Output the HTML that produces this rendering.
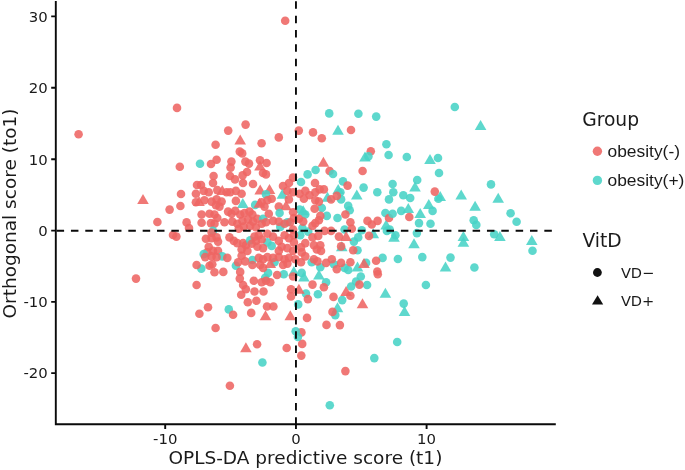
<!DOCTYPE html>
<html><head><meta charset="utf-8"><title>OPLS-DA score plot</title>
<style>
html,body{margin:0;padding:0;background:#fff;}
svg{display:block}
text{font-family:"DejaVu Sans","Liberation Sans",sans-serif;fill:#1a1a1a}
.tk{font-size:14.9px;fill:#111}
.ax{font-size:18.5px}
.lt{font-size:18.7px}
.ll{font-size:17.4px;font-family:"Liberation Sans",sans-serif}
.lv{font-size:14.6px}
.r{fill:#ee6563;fill-opacity:0.88}
.c{fill:#48d3c6;fill-opacity:0.88}
</style></head><body>
<svg width="685" height="470" viewBox="0 0 685 470">
<rect width="685" height="470" fill="#fff"/>
<g id="pts">
<circle class="r" cx="177.0" cy="107.9" r="4.3"/>
<circle class="r" cx="78.6" cy="134.2" r="4.3"/>
<circle class="r" cx="179.8" cy="166.8" r="4.3"/>
<circle class="r" cx="285.2" cy="20.8" r="4.3"/>
<circle class="c" cx="329.2" cy="113.4" r="4.3"/>
<circle class="r" cx="245.6" cy="124.6" r="4.3"/>
<circle class="r" cx="228.2" cy="130.6" r="4.3"/>
<circle class="r" cx="298.8" cy="130.6" r="4.3"/>
<circle class="r" cx="313.0" cy="132.4" r="4.3"/>
<circle class="r" cx="321.8" cy="138.2" r="4.3"/>
<circle class="r" cx="278.8" cy="137.4" r="4.3"/>
<path class="r" d="M240.2 134.4l5.8 10.00h-11.6z"/>
<circle class="r" cx="261.6" cy="143.2" r="4.3"/>
<circle class="r" cx="215.6" cy="144.8" r="4.3"/>
<circle class="r" cx="239.8" cy="151.6" r="4.3"/>
<circle class="r" cx="242.2" cy="153.4" r="4.3"/>
<circle class="c" cx="200.0" cy="163.8" r="4.3"/>
<circle class="r" cx="216.6" cy="159.8" r="4.3"/>
<circle class="r" cx="211.0" cy="164.0" r="4.3"/>
<circle class="r" cx="231.4" cy="161.6" r="4.3"/>
<circle class="r" cx="230.6" cy="167.6" r="4.3"/>
<circle class="r" cx="245.4" cy="161.6" r="4.3"/>
<circle class="r" cx="249.0" cy="163.6" r="4.3"/>
<circle class="r" cx="260.0" cy="160.2" r="4.3"/>
<circle class="r" cx="266.6" cy="163.0" r="4.3"/>
<path class="r" d="M260.0 160.4l5.8 10.00h-11.6z"/>
<path class="r" d="M323.4 156.8l5.8 10.00h-11.6z"/>
<circle class="c" cx="315.6" cy="170.0" r="4.3"/>
<circle class="c" cx="307.6" cy="174.4" r="4.3"/>
<circle class="r" cx="247.0" cy="172.0" r="4.3"/>
<circle class="r" cx="242.6" cy="175.4" r="4.3"/>
<circle class="r" cx="263.0" cy="173.0" r="4.3"/>
<circle class="r" cx="266.0" cy="174.4" r="4.3"/>
<circle class="r" cx="213.6" cy="176.0" r="4.3"/>
<circle class="r" cx="230.0" cy="176.0" r="4.3"/>
<circle class="r" cx="235.0" cy="179.4" r="4.3"/>
<circle class="r" cx="213.0" cy="183.0" r="4.3"/>
<circle class="r" cx="201.0" cy="185.0" r="4.3"/>
<circle class="r" cx="197.0" cy="185.0" r="4.3"/>
<circle class="r" cx="293.0" cy="177.6" r="4.3"/>
<circle class="c" cx="301.0" cy="182.0" r="4.3"/>
<circle class="r" cx="289.0" cy="183.0" r="4.3"/>
<circle class="r" cx="315.0" cy="183.0" r="4.3"/>
<circle class="r" cx="329.6" cy="171.0" r="4.3"/>
<circle class="r" cx="243.0" cy="183.0" r="4.3"/>
<circle class="r" cx="253.0" cy="184.0" r="4.3"/>
<circle class="r" cx="283.0" cy="186.0" r="4.3"/>
<circle class="c" cx="358.4" cy="113.8" r="4.3"/>
<circle class="c" cx="376.2" cy="116.6" r="4.3"/>
<circle class="c" cx="454.8" cy="107.0" r="4.3"/>
<path class="c" d="M338.0 124.8l5.8 10.00h-11.6z"/>
<circle class="r" cx="351.0" cy="130.0" r="4.3"/>
<circle class="c" cx="386.4" cy="144.2" r="4.3"/>
<circle class="r" cx="370.8" cy="151.2" r="4.3"/>
<path class="c" d="M365.0 151.4l5.8 10.00h-11.6z"/>
<circle class="c" cx="368.4" cy="156.4" r="4.3"/>
<circle class="c" cx="388.6" cy="155.0" r="4.3"/>
<circle class="c" cx="406.8" cy="157.0" r="4.3"/>
<path class="c" d="M430.0 154.0l5.8 10.00h-11.6z"/>
<circle class="c" cx="438.0" cy="158.0" r="4.3"/>
<circle class="c" cx="439.0" cy="173.0" r="4.3"/>
<circle class="r" cx="362.6" cy="171.0" r="4.3"/>
<circle class="c" cx="333.0" cy="174.0" r="4.3"/>
<circle class="c" cx="343.0" cy="181.4" r="4.3"/>
<circle class="r" cx="347.6" cy="185.6" r="4.3"/>
<circle class="c" cx="417.2" cy="180.0" r="4.3"/>
<circle class="c" cx="392.6" cy="184.0" r="4.3"/>
<circle class="c" cx="363.6" cy="187.6" r="4.3"/>
<path class="c" d="M415.0 181.4l5.8 10.00h-11.6z"/>
<path class="c" d="M480.6 120.0l5.8 10.00h-11.6z"/>
<circle class="c" cx="491.0" cy="184.4" r="4.3"/>
<path class="r" d="M143.0 194.0l5.8 10.00h-11.6z"/>
<circle class="r" cx="181.0" cy="194.0" r="4.3"/>
<circle class="r" cx="180.4" cy="206.0" r="4.3"/>
<circle class="r" cx="169.6" cy="209.6" r="4.3"/>
<circle class="r" cx="157.4" cy="222.0" r="4.3"/>
<circle class="r" cx="186.6" cy="222.4" r="4.3"/>
<circle class="r" cx="189.0" cy="228.0" r="4.3"/>
<circle class="r" cx="173.0" cy="235.0" r="4.3"/>
<circle class="r" cx="176.4" cy="236.6" r="4.3"/>
<circle class="r" cx="136.0" cy="278.6" r="4.3"/>
<circle class="r" cx="195.9" cy="193.7" r="4.3"/>
<circle class="r" cx="203.7" cy="190.9" r="4.3"/>
<circle class="r" cx="208.7" cy="192.3" r="4.3"/>
<circle class="r" cx="217.3" cy="190.1" r="4.3"/>
<path class="r" d="M222.3 185.0l5.8 10.00h-11.6z"/>
<circle class="r" cx="226.6" cy="192.3" r="4.3"/>
<path class="r" d="M260.2 184.5l5.8 10.00h-11.6z"/>
<path class="r" d="M269.5 184.1l5.8 10.00h-11.6z"/>
<circle class="c" cx="266.0" cy="194.4" r="4.3"/>
<path class="c" d="M282.4 188.8l5.8 10.00h-11.6z"/>
<circle class="r" cx="287.4" cy="190.9" r="4.3"/>
<circle class="r" cx="288.9" cy="199.4" r="4.3"/>
<circle class="r" cx="230.2" cy="192.3" r="4.3"/>
<circle class="r" cx="235.9" cy="190.9" r="4.3"/>
<circle class="r" cx="241.6" cy="193.7" r="4.3"/>
<circle class="r" cx="235.9" cy="200.9" r="4.3"/>
<path class="c" d="M242.8 197.9l5.8 10.00h-11.6z"/>
<circle class="r" cx="195.9" cy="202.3" r="4.3"/>
<path class="r" d="M199.0 196.0l5.8 10.00h-11.6z"/>
<circle class="r" cx="204.4" cy="200.2" r="4.3"/>
<circle class="r" cx="211.6" cy="201.6" r="4.3"/>
<circle class="r" cx="216.6" cy="199.4" r="4.3"/>
<circle class="r" cx="221.6" cy="201.6" r="4.3"/>
<circle class="r" cx="215.9" cy="205.2" r="4.3"/>
<circle class="r" cx="219.5" cy="206.6" r="4.3"/>
<circle class="c" cx="255.2" cy="204.9" r="4.3"/>
<circle class="r" cx="261.7" cy="202.3" r="4.3"/>
<circle class="r" cx="267.4" cy="200.2" r="4.3"/>
<circle class="r" cx="271.7" cy="198.7" r="4.3"/>
<circle class="r" cx="264.5" cy="206.6" r="4.3"/>
<circle class="r" cx="278.8" cy="206.6" r="4.3"/>
<path class="r" d="M286.0 200.3l5.8 10.00h-11.6z"/>
<circle class="c" cx="279.6" cy="213.0" r="4.3"/>
<circle class="r" cx="201.6" cy="214.5" r="4.3"/>
<circle class="r" cx="201.6" cy="222.8" r="4.3"/>
<circle class="r" cx="209.5" cy="213.8" r="4.3"/>
<circle class="r" cx="214.5" cy="214.5" r="4.3"/>
<circle class="r" cx="217.3" cy="218.0" r="4.3"/>
<circle class="r" cx="210.9" cy="223.1" r="4.3"/>
<circle class="r" cx="214.5" cy="223.8" r="4.3"/>
<circle class="r" cx="228.1" cy="211.6" r="4.3"/>
<circle class="r" cx="231.6" cy="213.8" r="4.3"/>
<circle class="r" cx="235.2" cy="210.9" r="4.3"/>
<circle class="r" cx="240.2" cy="214.5" r="4.3"/>
<circle class="r" cx="244.5" cy="213.0" r="4.3"/>
<circle class="r" cx="249.5" cy="211.6" r="4.3"/>
<circle class="r" cx="252.4" cy="214.5" r="4.3"/>
<circle class="r" cx="224.5" cy="222.3" r="4.3"/>
<circle class="r" cx="232.3" cy="221.6" r="4.3"/>
<circle class="r" cx="237.3" cy="223.8" r="4.3"/>
<circle class="r" cx="242.4" cy="220.9" r="4.3"/>
<circle class="r" cx="248.1" cy="219.5" r="4.3"/>
<circle class="r" cx="253.1" cy="221.6" r="4.3"/>
<circle class="r" cx="257.4" cy="218.8" r="4.3"/>
<circle class="c" cx="263.1" cy="218.8" r="4.3"/>
<circle class="c" cx="287.4" cy="222.3" r="4.3"/>
<circle class="c" cx="280.3" cy="226.9" r="4.3"/>
<circle class="r" cx="261.7" cy="223.8" r="4.3"/>
<circle class="r" cx="266.0" cy="222.3" r="4.3"/>
<circle class="r" cx="268.8" cy="213.8" r="4.3"/>
<circle class="r" cx="273.1" cy="220.9" r="4.3"/>
<circle class="r" cx="278.8" cy="221.6" r="4.3"/>
<circle class="r" cx="284.6" cy="223.8" r="4.3"/>
<circle class="r" cx="290.3" cy="222.3" r="4.3"/>
<circle class="r" cx="238.8" cy="228.8" r="4.3"/>
<circle class="r" cx="243.8" cy="226.6" r="4.3"/>
<circle class="r" cx="250.2" cy="225.9" r="4.3"/>
<circle class="r" cx="255.9" cy="227.3" r="4.3"/>
<circle class="c" cx="213.0" cy="230.9" r="4.3"/>
<circle class="r" cx="211.6" cy="232.6" r="4.3"/>
<circle class="r" cx="205.9" cy="238.8" r="4.3"/>
<circle class="r" cx="211.6" cy="238.1" r="4.3"/>
<circle class="r" cx="216.6" cy="237.4" r="4.3"/>
<circle class="r" cx="218.0" cy="241.6" r="4.3"/>
<circle class="r" cx="208.7" cy="246.7" r="4.3"/>
<circle class="r" cx="213.0" cy="250.9" r="4.3"/>
<circle class="r" cx="218.0" cy="250.9" r="4.3"/>
<circle class="r" cx="207.3" cy="252.4" r="4.3"/>
<circle class="r" cx="229.5" cy="237.4" r="4.3"/>
<circle class="r" cx="233.8" cy="240.9" r="4.3"/>
<circle class="r" cx="237.3" cy="243.1" r="4.3"/>
<circle class="r" cx="243.1" cy="243.1" r="4.3"/>
<circle class="r" cx="245.9" cy="245.2" r="4.3"/>
<circle class="r" cx="241.6" cy="249.5" r="4.3"/>
<circle class="r" cx="247.4" cy="250.9" r="4.3"/>
<circle class="c" cx="250.2" cy="240.2" r="4.3"/>
<circle class="c" cx="267.4" cy="242.4" r="4.3"/>
<circle class="c" cx="271.7" cy="245.9" r="4.3"/>
<circle class="r" cx="254.5" cy="236.6" r="4.3"/>
<circle class="r" cx="258.8" cy="235.2" r="4.3"/>
<circle class="r" cx="255.9" cy="240.9" r="4.3"/>
<circle class="r" cx="261.7" cy="239.5" r="4.3"/>
<circle class="r" cx="251.7" cy="243.8" r="4.3"/>
<circle class="r" cx="257.4" cy="246.7" r="4.3"/>
<circle class="r" cx="263.1" cy="248.1" r="4.3"/>
<circle class="r" cx="267.4" cy="233.8" r="4.3"/>
<circle class="r" cx="273.1" cy="236.6" r="4.3"/>
<circle class="r" cx="278.8" cy="240.9" r="4.3"/>
<circle class="r" cx="284.6" cy="235.2" r="4.3"/>
<circle class="r" cx="288.9" cy="238.1" r="4.3"/>
<circle class="r" cx="281.7" cy="246.7" r="4.3"/>
<circle class="r" cx="287.4" cy="248.1" r="4.3"/>
<circle class="r" cx="278.8" cy="250.9" r="4.3"/>
<circle class="c" cx="203.7" cy="254.1" r="4.3"/>
<path class="c" d="M327.5 191.7l5.8 10.00h-11.6z"/>
<circle class="c" cx="340.4" cy="192.3" r="4.3"/>
<circle class="c" cx="341.1" cy="199.4" r="4.3"/>
<path class="c" d="M338.2 184.1l5.8 10.00h-11.6z"/>
<path class="c" d="M356.8 189.6l5.8 10.00h-11.6z"/>
<circle class="c" cx="377.3" cy="192.3" r="4.3"/>
<circle class="c" cx="389.0" cy="199.4" r="4.3"/>
<circle class="c" cx="321.8" cy="208.0" r="4.3"/>
<circle class="c" cx="348.2" cy="205.9" r="4.3"/>
<circle class="c" cx="349.7" cy="210.2" r="4.3"/>
<circle class="c" cx="326.8" cy="215.9" r="4.3"/>
<circle class="c" cx="337.5" cy="218.0" r="4.3"/>
<path class="c" d="M303.2 205.3l5.8 10.00h-11.6z"/>
<circle class="c" cx="305.3" cy="214.5" r="4.3"/>
<circle class="c" cx="299.6" cy="209.5" r="4.3"/>
<circle class="c" cx="385.4" cy="213.0" r="4.3"/>
<path class="c" d="M386.1 219.6l5.8 10.00h-11.6z"/>
<circle class="c" cx="302.4" cy="228.1" r="4.3"/>
<circle class="c" cx="308.2" cy="231.6" r="4.3"/>
<circle class="c" cx="300.3" cy="235.2" r="4.3"/>
<circle class="c" cx="344.6" cy="229.5" r="4.3"/>
<circle class="c" cx="361.8" cy="230.2" r="4.3"/>
<circle class="c" cx="358.2" cy="237.4" r="4.3"/>
<circle class="c" cx="353.9" cy="241.6" r="4.3"/>
<path class="c" d="M373.3 228.2l5.8 10.00h-11.6z"/>
<circle class="c" cx="386.9" cy="230.9" r="4.3"/>
<path class="c" d="M341.8 241.3l5.8 10.00h-11.6z"/>
<circle class="c" cx="357.5" cy="250.2" r="4.3"/>
<circle class="r" cx="293.1" cy="192.3" r="4.3"/>
<circle class="r" cx="299.6" cy="193.7" r="4.3"/>
<circle class="r" cx="305.3" cy="190.9" r="4.3"/>
<circle class="r" cx="309.6" cy="195.2" r="4.3"/>
<circle class="r" cx="315.3" cy="192.3" r="4.3"/>
<circle class="r" cx="319.6" cy="189.4" r="4.3"/>
<circle class="r" cx="323.9" cy="189.4" r="4.3"/>
<circle class="r" cx="303.9" cy="198.7" r="4.3"/>
<circle class="r" cx="315.3" cy="200.2" r="4.3"/>
<circle class="r" cx="318.9" cy="201.6" r="4.3"/>
<circle class="r" cx="331.1" cy="199.4" r="4.3"/>
<circle class="r" cx="336.8" cy="195.9" r="4.3"/>
<circle class="r" cx="314.6" cy="208.7" r="4.3"/>
<circle class="r" cx="320.3" cy="215.9" r="4.3"/>
<circle class="r" cx="318.9" cy="220.2" r="4.3"/>
<circle class="r" cx="315.3" cy="223.1" r="4.3"/>
<circle class="r" cx="312.5" cy="225.9" r="4.3"/>
<circle class="r" cx="345.4" cy="214.5" r="4.3"/>
<circle class="r" cx="350.4" cy="222.3" r="4.3"/>
<circle class="r" cx="351.8" cy="228.8" r="4.3"/>
<circle class="r" cx="367.5" cy="220.9" r="4.3"/>
<circle class="r" cx="371.8" cy="224.5" r="4.3"/>
<circle class="r" cx="377.6" cy="220.9" r="4.3"/>
<circle class="r" cx="389.0" cy="218.0" r="4.3"/>
<circle class="r" cx="369.0" cy="235.9" r="4.3"/>
<circle class="r" cx="324.6" cy="230.9" r="4.3"/>
<circle class="r" cx="331.1" cy="230.9" r="4.3"/>
<circle class="r" cx="338.9" cy="236.6" r="4.3"/>
<path class="r" d="M346.1 231.0l5.8 10.00h-11.6z"/>
<circle class="r" cx="341.1" cy="246.4" r="4.3"/>
<circle class="r" cx="353.2" cy="250.2" r="4.3"/>
<circle class="r" cx="293.1" cy="212.3" r="4.3"/>
<circle class="r" cx="293.9" cy="218.0" r="4.3"/>
<circle class="r" cx="298.9" cy="218.8" r="4.3"/>
<circle class="r" cx="303.2" cy="221.6" r="4.3"/>
<circle class="r" cx="293.1" cy="229.5" r="4.3"/>
<circle class="r" cx="293.9" cy="235.2" r="4.3"/>
<circle class="r" cx="312.5" cy="237.4" r="4.3"/>
<circle class="r" cx="318.2" cy="235.9" r="4.3"/>
<circle class="r" cx="305.3" cy="243.1" r="4.3"/>
<circle class="r" cx="301.0" cy="247.4" r="4.3"/>
<circle class="r" cx="313.9" cy="245.2" r="4.3"/>
<circle class="r" cx="320.3" cy="245.2" r="4.3"/>
<circle class="r" cx="316.8" cy="249.5" r="4.3"/>
<circle class="r" cx="321.0" cy="250.9" r="4.3"/>
<circle class="r" cx="301.7" cy="252.4" r="4.3"/>
<circle class="r" cx="293.9" cy="242.4" r="4.3"/>
<circle class="r" cx="293.1" cy="250.9" r="4.3"/>
<circle class="c" cx="393.3" cy="192.3" r="4.3"/>
<circle class="c" cx="403.3" cy="195.2" r="4.3"/>
<circle class="c" cx="410.2" cy="198.0" r="4.3"/>
<circle class="c" cx="438.4" cy="198.7" r="4.3"/>
<path class="c" d="M440.2 191.0l5.8 10.00h-11.6z"/>
<path class="c" d="M461.2 189.6l5.8 10.00h-11.6z"/>
<path class="c" d="M428.8 198.9l5.8 10.00h-11.6z"/>
<path class="c" d="M408.3 203.1l5.8 10.00h-11.6z"/>
<circle class="c" cx="401.2" cy="210.9" r="4.3"/>
<circle class="c" cx="392.6" cy="213.8" r="4.3"/>
<path class="c" d="M420.2 207.9l5.8 10.00h-11.6z"/>
<circle class="c" cx="432.6" cy="210.9" r="4.3"/>
<path class="c" d="M475.1 200.7l5.8 10.00h-11.6z"/>
<circle class="c" cx="473.7" cy="220.2" r="4.3"/>
<circle class="c" cx="476.3" cy="224.9" r="4.3"/>
<circle class="c" cx="419.0" cy="223.1" r="4.3"/>
<circle class="c" cx="430.5" cy="223.8" r="4.3"/>
<path class="c" d="M4728.1 228.9l5.8 10.00h-11.6z"/>
<circle class="c" cx="416.9" cy="233.1" r="4.3"/>
<circle class="c" cx="395.4" cy="235.2" r="4.3"/>
<path class="c" d="M394.0 231.8l5.8 10.00h-11.6z"/>
<circle class="c" cx="389.7" cy="229.5" r="4.3"/>
<path class="c" d="M414.0 238.2l5.8 10.00h-11.6z"/>
<path class="c" d="M463.4 231.0l5.8 10.00h-11.6z"/>
<path class="c" d="M463.4 236.8l5.8 10.00h-11.6z"/>
<circle class="r" cx="434.8" cy="191.6" r="4.3"/>
<circle class="r" cx="409.3" cy="217.0" r="4.3"/>
<path class="c" d="M498.2 192.7l5.8 10.00h-11.6z"/>
<circle class="c" cx="510.6" cy="213.2" r="4.3"/>
<circle class="c" cx="516.6" cy="221.8" r="4.3"/>
<circle class="c" cx="494.2" cy="234.3" r="4.3"/>
<path class="c" d="M499.9 230.9l5.8 10.00h-11.6z"/>
<path class="c" d="M531.8 235.1l5.8 10.00h-11.6z"/>
<circle class="c" cx="532.5" cy="250.8" r="4.3"/>
<circle class="c" cx="474.4" cy="267.5" r="4.3"/>
<circle class="c" cx="222.3" cy="256.4" r="4.3"/>
<circle class="c" cx="201.3" cy="268.6" r="4.3"/>
<circle class="c" cx="235.9" cy="265.7" r="4.3"/>
<circle class="c" cx="252.4" cy="260.0" r="4.3"/>
<circle class="c" cx="268.1" cy="272.9" r="4.3"/>
<circle class="c" cx="283.8" cy="274.3" r="4.3"/>
<circle class="c" cx="228.8" cy="309.4" r="4.3"/>
<circle class="c" cx="265.2" cy="277.9" r="4.3"/>
<circle class="c" cx="274.5" cy="262.2" r="4.3"/>
<circle class="r" cx="205.2" cy="257.1" r="4.3"/>
<circle class="r" cx="211.6" cy="256.4" r="4.3"/>
<circle class="r" cx="216.6" cy="257.1" r="4.3"/>
<circle class="r" cx="227.3" cy="257.9" r="4.3"/>
<circle class="r" cx="196.6" cy="265.0" r="4.3"/>
<circle class="r" cx="209.5" cy="265.7" r="4.3"/>
<circle class="r" cx="212.3" cy="264.3" r="4.3"/>
<circle class="r" cx="214.5" cy="272.2" r="4.3"/>
<circle class="r" cx="223.3" cy="271.9" r="4.3"/>
<circle class="r" cx="196.6" cy="285.0" r="4.3"/>
<circle class="r" cx="238.1" cy="262.2" r="4.3"/>
<circle class="r" cx="245.2" cy="261.4" r="4.3"/>
<circle class="r" cx="252.4" cy="265.0" r="4.3"/>
<circle class="r" cx="240.2" cy="271.9" r="4.3"/>
<circle class="r" cx="239.8" cy="278.6" r="4.3"/>
<circle class="r" cx="243.1" cy="285.0" r="4.3"/>
<circle class="r" cx="245.9" cy="289.3" r="4.3"/>
<circle class="r" cx="241.2" cy="294.8" r="4.3"/>
<circle class="r" cx="253.8" cy="280.8" r="4.3"/>
<circle class="r" cx="261.7" cy="282.2" r="4.3"/>
<circle class="r" cx="266.0" cy="280.8" r="4.3"/>
<circle class="r" cx="270.3" cy="282.2" r="4.3"/>
<circle class="r" cx="254.5" cy="291.5" r="4.3"/>
<circle class="r" cx="263.5" cy="291.5" r="4.3"/>
<circle class="r" cx="247.8" cy="302.2" r="4.3"/>
<circle class="r" cx="256.4" cy="300.8" r="4.3"/>
<circle class="r" cx="267.0" cy="306.5" r="4.3"/>
<circle class="r" cx="273.4" cy="306.5" r="4.3"/>
<circle class="r" cx="251.2" cy="312.9" r="4.3"/>
<circle class="r" cx="233.1" cy="314.8" r="4.3"/>
<circle class="r" cx="208.0" cy="307.2" r="4.3"/>
<circle class="r" cx="199.4" cy="313.7" r="4.3"/>
<circle class="r" cx="277.1" cy="275.0" r="4.3"/>
<circle class="r" cx="258.8" cy="257.9" r="4.3"/>
<circle class="r" cx="263.1" cy="259.3" r="4.3"/>
<circle class="r" cx="267.4" cy="257.1" r="4.3"/>
<circle class="r" cx="273.1" cy="257.9" r="4.3"/>
<circle class="r" cx="278.8" cy="257.1" r="4.3"/>
<circle class="r" cx="284.6" cy="259.3" r="4.3"/>
<circle class="r" cx="288.9" cy="257.9" r="4.3"/>
<circle class="r" cx="260.2" cy="265.0" r="4.3"/>
<circle class="r" cx="263.1" cy="267.9" r="4.3"/>
<circle class="r" cx="283.1" cy="265.0" r="4.3"/>
<circle class="r" cx="287.4" cy="263.6" r="4.3"/>
<path class="r" d="M270.3 258.0l5.8 10.00h-11.6z"/>
<circle class="r" cx="291.0" cy="289.3" r="4.3"/>
<circle class="r" cx="291.0" cy="296.5" r="4.3"/>
<path class="r" d="M265.5 310.2l5.8 10.00h-11.6z"/>
<path class="r" d="M290.3 310.2l5.8 10.00h-11.6z"/>
<circle class="r" cx="241.6" cy="255.7" r="4.3"/>
<circle class="c" cx="311.7" cy="262.2" r="4.3"/>
<circle class="c" cx="320.3" cy="267.2" r="4.3"/>
<path class="c" d="M318.9 269.4l5.8 10.00h-11.6z"/>
<circle class="c" cx="333.9" cy="264.3" r="4.3"/>
<circle class="c" cx="344.6" cy="267.9" r="4.3"/>
<circle class="c" cx="348.2" cy="270.0" r="4.3"/>
<path class="c" d="M357.5 261.6l5.8 10.00h-11.6z"/>
<circle class="c" cx="366.1" cy="262.9" r="4.3"/>
<circle class="c" cx="382.6" cy="257.9" r="4.3"/>
<circle class="c" cx="301.7" cy="272.9" r="4.3"/>
<path class="c" d="M303.9 271.6l5.8 10.00h-11.6z"/>
<circle class="c" cx="326.1" cy="282.2" r="4.3"/>
<circle class="c" cx="360.8" cy="276.5" r="4.3"/>
<circle class="c" cx="356.1" cy="281.5" r="4.3"/>
<circle class="c" cx="351.1" cy="286.5" r="4.3"/>
<circle class="c" cx="367.1" cy="285.0" r="4.3"/>
<circle class="c" cx="306.0" cy="293.6" r="4.3"/>
<circle class="c" cx="317.9" cy="294.3" r="4.3"/>
<circle class="c" cx="342.2" cy="300.1" r="4.3"/>
<path class="c" d="M385.4 287.7l5.8 10.00h-11.6z"/>
<circle class="c" cx="298.2" cy="304.4" r="4.3"/>
<path class="c" d="M337.5 302.3l5.8 10.00h-11.6z"/>
<circle class="c" cx="335.3" cy="315.1" r="4.3"/>
<path class="c" d="M293.9 265.9l5.8 10.00h-11.6z"/>
<circle class="r" cx="295.3" cy="259.3" r="4.3"/>
<circle class="r" cx="301.0" cy="262.2" r="4.3"/>
<circle class="r" cx="305.3" cy="256.4" r="4.3"/>
<circle class="r" cx="313.9" cy="259.3" r="4.3"/>
<circle class="r" cx="317.5" cy="261.4" r="4.3"/>
<circle class="r" cx="326.1" cy="262.9" r="4.3"/>
<circle class="r" cx="331.8" cy="259.3" r="4.3"/>
<circle class="r" cx="341.1" cy="262.9" r="4.3"/>
<circle class="r" cx="350.4" cy="262.2" r="4.3"/>
<circle class="r" cx="336.8" cy="269.3" r="4.3"/>
<path class="r" d="M364.0 258.0l5.8 10.00h-11.6z"/>
<circle class="r" cx="376.1" cy="260.7" r="4.3"/>
<circle class="r" cx="377.3" cy="271.5" r="4.3"/>
<circle class="r" cx="377.8" cy="274.3" r="4.3"/>
<circle class="r" cx="312.5" cy="284.6" r="4.3"/>
<circle class="r" cx="323.9" cy="287.2" r="4.3"/>
<circle class="r" cx="359.4" cy="284.6" r="4.3"/>
<path class="r" d="M346.1 285.9l5.8 10.00h-11.6z"/>
<circle class="r" cx="350.4" cy="295.8" r="4.3"/>
<circle class="r" cx="333.5" cy="296.9" r="4.3"/>
<circle class="r" cx="307.9" cy="299.1" r="4.3"/>
<path class="r" d="M362.5 298.3l5.8 10.00h-11.6z"/>
<circle class="r" cx="332.5" cy="311.9" r="4.3"/>
<circle class="r" cx="307.0" cy="317.9" r="4.3"/>
<circle class="r" cx="293.1" cy="276.5" r="4.3"/>
<path class="r" d="M298.9 283.7l5.8 10.00h-11.6z"/>
<circle class="c" cx="397.9" cy="259.0" r="4.3"/>
<circle class="c" cx="422.3" cy="257.1" r="4.3"/>
<circle class="c" cx="450.5" cy="257.6" r="4.3"/>
<path class="c" d="M445.5 261.6l5.8 10.00h-11.6z"/>
<circle class="c" cx="425.9" cy="285.0" r="4.3"/>
<circle class="c" cx="403.7" cy="303.6" r="4.3"/>
<path class="c" d="M404.5 305.9l5.8 10.00h-11.6z"/>
<circle class="r" cx="215.6" cy="328.0" r="4.3"/>
<path class="r" d="M245.9 342.2l5.8 10.00h-11.6z"/>
<circle class="r" cx="257.1" cy="344.2" r="4.3"/>
<circle class="r" cx="286.7" cy="348.0" r="4.3"/>
<circle class="c" cx="262.4" cy="362.5" r="4.3"/>
<circle class="r" cx="229.9" cy="385.7" r="4.3"/>
<circle class="r" cx="326.5" cy="324.9" r="4.3"/>
<circle class="r" cx="339.9" cy="325.1" r="4.3"/>
<circle class="r" cx="301.4" cy="332.4" r="4.3"/>
<circle class="r" cx="302.2" cy="343.9" r="4.3"/>
<circle class="r" cx="301.3" cy="355.6" r="4.3"/>
<circle class="r" cx="345.4" cy="371.1" r="4.3"/>
<circle class="c" cx="295.7" cy="331.3" r="4.3"/>
<circle class="c" cx="297.9" cy="337.0" r="4.3"/>
<circle class="c" cx="374.3" cy="358.1" r="4.3"/>
<circle class="c" cx="397.2" cy="342.0" r="4.3"/>
<circle class="c" cx="329.8" cy="405.2" r="4.3"/>
<path class="r" d="M259.4 197.7l5.8 10.00h-11.6z"/>
</g>
<g stroke="#0a0a0a" stroke-width="1.9" stroke-dasharray="7.5 6.845" fill="none">
<line x1="56.6" y1="230.7" x2="555.8" y2="230.7"/>
<line x1="295.95" y1="424.8" x2="295.95" y2="1"/>
</g>
<g stroke="#0a0a0a" stroke-width="1.9" fill="none">
<path d="M55.8 0.9V424.2H555.8"/>
<path d="M51.2 16.4H55.8M51.2 87.8H55.8M51.2 159.2H55.8M51.2 230.6H55.8M51.2 301.9H55.8M51.2 373.1H55.8"/>
<path d="M165.2 424.2V428.9M295.95 424.2V428.9M426.6 424.2V428.9"/>
</g>
<g class="tk" text-anchor="end">
<text x="47.8" y="21.7">30</text><text x="47.8" y="93.3">20</text><text x="47.8" y="164.6">10</text>
<text x="47.8" y="235.9">0</text><text x="47.8" y="307.2">-10</text><text x="47.8" y="378.4">-20</text>
</g>
<g class="tk" text-anchor="middle">
<text x="165.2" y="443.5">-10</text><text x="295.95" y="443.5">0</text><text x="426.6" y="443.5">10</text>
</g>
<text class="ax" x="305.4" y="463.6" text-anchor="middle">OPLS-DA predictive score (t1)</text>
<text class="ax" transform="translate(15.7,213.5) rotate(-90)" text-anchor="middle">Orthogonal score (to1)</text>
<text class="lt" x="582.2" y="126">Group</text>
<circle cx="597.4" cy="151.2" r="4.7" fill="#ee6563" fill-opacity="0.88"/><text class="ll" x="607.5" y="156.5">obesity(-)</text>
<circle cx="597.4" cy="180.4" r="4.7" fill="#48d3c6" fill-opacity="0.88"/><text class="ll" x="607.5" y="186.4">obesity(+)</text>
<text class="lt" x="582.4" y="246.7">VitD</text>
<circle cx="597.4" cy="272.5" r="4.4" fill="#111"/><text class="lv" x="620.9" y="277.7">VD−</text>
<path d="M597.6 295.3L603.2 304.5L592 304.5Z" fill="#111"/><text class="lv" x="620.9" y="306.4">VD+</text>
</svg>
</body></html>
